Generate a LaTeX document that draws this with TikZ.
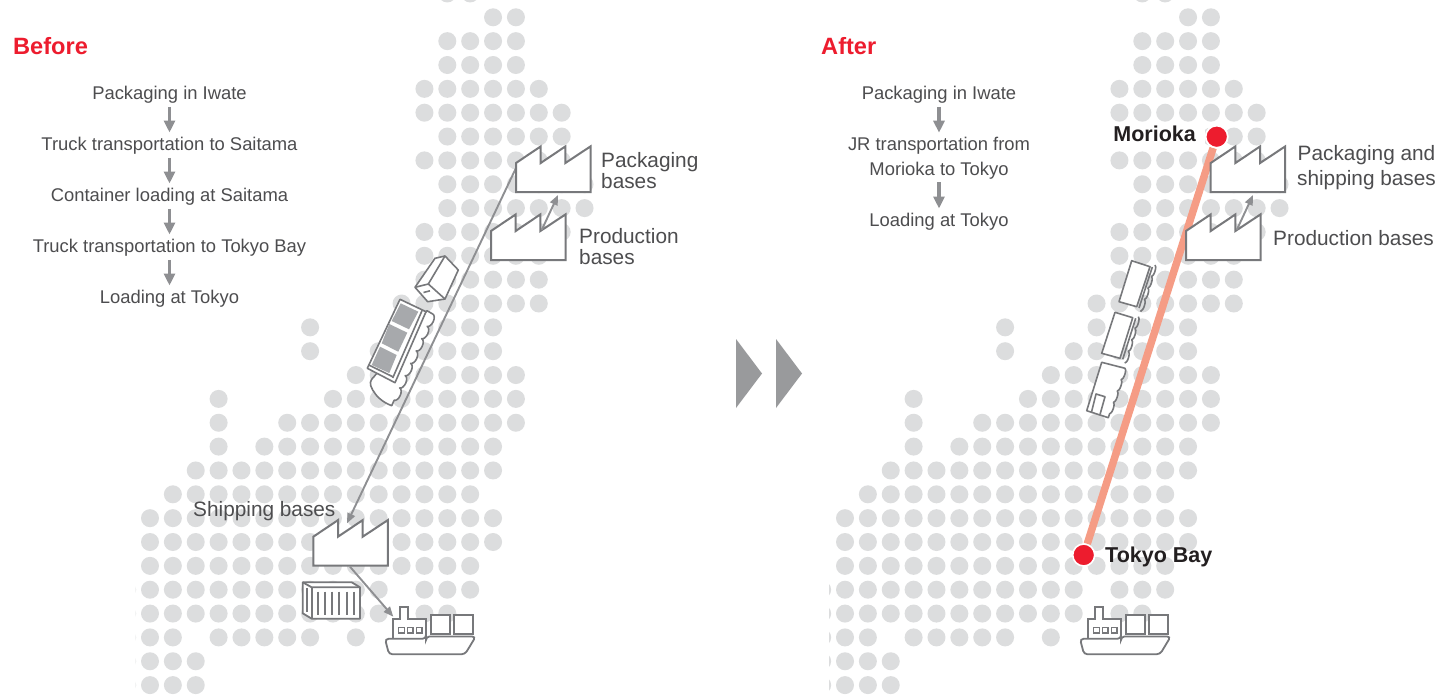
\documentclass[tikz,border=0pt]{standalone}
\usepackage{fontspec}
\setmainfont{Liberation Sans}
\usetikzlibrary{arrows.meta,decorations.pathmorphing}
\definecolor{dotgray}{HTML}{DCDDDE}
\definecolor{icongray}{HTML}{77787B}
\definecolor{arrowgray}{HTML}{8E8F92}
\definecolor{cargo}{HTML}{A7A9AC}
\definecolor{txtgray}{HTML}{4D4D4F}
\definecolor{hdred}{HTML}{ED1C2E}
\definecolor{salmon}{HTML}{F59C85}
\definecolor{tri}{HTML}{999A9C}
\definecolor{nearblack}{HTML}{231F20}
\newcommand{\dotmap}[1]{%
  \begin{scope}
  \clip (#1,0) rectangle (620,696);
  \foreach \rw/\cols in {-1/{13,14},0/{15,16},1/{13,...,16},2/{13,...,16},3/{12,...,17},4/{12,...,18},5/{13,...,18},
    6/{12,...,18},7/{13,...,19},8/{13,...,19},9/{12,...,18},10/{12,...,17},11/{12,...,17},12/{11,...,17},
    13/{7,11,12,13,14,15},14/{7,10,11,12,13,14,15},15/{9,...,16},16/{3,8,9,10,11,12,13,14,15,16},
    17/{3,6,7,8,9,10,11,12,13,14,15,16},18/{3,5,6,7,8,9,10,11,12,13,14,15},19/{2,...,15},20/{1,...,14},
    21/{0,...,15},22/{0,...,15},23/{0,...,14},24/{-1,0,1,2,3,4,5,6,7,8,9,10,12,13,14},
    25/{-1,0,1,2,3,4,5,6,7,8,9,10,12,13},26/{-1,0,1,3,4,5,6,7,9},27/{-1,0,1,2},28/{-1,0,1,2}}{
    \foreach \cl in \cols {
      \fill[dotgray] ({150+22.87*\cl},{17.3+23.85*\rw}) circle[radius=9];
    }
  }
  \end{scope}
}
\tikzset{
  x=1pt,y=-1pt,
  icon/.style={draw=icongray,line width=2pt,line join=miter},
  thin icon/.style={draw=icongray,line width=1.6pt,line join=round},
  flow/.style={draw=arrowgray,line width=3.2pt,-{Triangle[length=12pt,width=11pt]}},
  link/.style={draw=arrowgray,line width=1.9pt,-{Triangle[length=10pt,width=8pt]}},
  step text/.style={font=\fontsize{18.4}{25}\selectfont,text=txtgray,inner sep=0pt,anchor=base,text height=17.3pt,text depth=7.7pt},
  label text/.style={font=\fontsize{20.8}{21}\selectfont,text=txtgray,inner sep=0pt},
  heading/.style={font=\fontsize{23.6}{26}\selectfont\bfseries,text=hdred,inner sep=0pt,anchor=base west},
  place/.style={font=\fontsize{21.5}{24}\selectfont\bfseries,text=nearblack,inner sep=0pt},
  reddot/.style={circle,draw=white,line width=1.6pt,fill=hdred,minimum size=22pt,inner sep=0pt},
  scallop/.style={decoration={bumps,segment length=27pt,amplitude=3.6pt}},
  small scallop/.style={decoration={bumps,segment length=24pt,amplitude=1.8pt}},
  factory/.pic={
    \draw[icon,fill=white] (0,0) -- (0,-29) -- (24.7,-45.6) -- (24.7,-29) -- (49.4,-45.6) -- (49.4,-29) -- (74.5,-45.6) -- (74.5,0) -- cycle;
  },
  cargoship/.pic={
    \draw[icon,fill=white,line width=1.8pt] (393.3,638) -- (393.3,618.7) -- (400,618.7) -- (400,607.3) -- (408.3,607.3) -- (408.3,618.7) -- (426,618.7) -- (426,638);
    \draw[icon,fill=white,line width=1.8pt] (430.7,615.3) rectangle (450,634);
    \draw[icon,fill=white,line width=1.8pt] (453.7,615.3) rectangle (472.7,634);
    \foreach \wx in {398.7,407.5,416.2} \draw[icon,line width=1.4pt,fill=white] (\wx,627.3) rectangle ++(5.6,5.6);
    \draw[icon,fill=white,line width=1.8pt,rounded corners=3.5pt] (385,638.8) -- (426,638.8) -- (426,636.5) -- (475.7,636.5) -- (465,654.3) -- (389,654.3) -- cycle;
  }
}
\begin{document}
\begin{tikzpicture}
\useasboundingbox (0,0) rectangle (1450,696);
\fill[white] (0,0) rectangle (1450,696);
% ---------- dot maps
\dotmap{135.6}
\begin{scope}[shift={(695,0)}]\dotmap{134}\end{scope}

% ---------- Before: headings and steps
\node[heading] (before) at (13,54) {Before};
\node[step text] (b1) at (169.5,99) {Packaging in Iwate};
\node[step text] (b2) at (169.5,150) {Truck transportation to Saitama};
\node[step text] (b3) at (169.5,201) {Container loading at Saitama};
\node[step text] (b4) at (169.5,252) {Truck transportation to Tokyo Bay};
\node[step text] (b5) at (169.5,303) {Loading at Tokyo};
\draw[flow] (b1.south) -- (b2.north);
\draw[flow] (b2.south) -- (b3.north);
\draw[flow] (b3.south) -- (b4.north);
\draw[flow] (b4.south) -- (b5.north);

% ---------- Before: icons
\coordinate (packL) at (516,168);
\coordinate (shipTop) at (347,523.3);
\coordinate (prodOut) at (541.7,230);
\coordinate (packIn) at (558,195);
\coordinate (shipOut) at (350,566.7);
\coordinate (vessel) at (393.3,616.7);
\draw[link] (packL) -- (shipTop);
% sea container box
\draw[thin icon,fill=white] (435,258.3) -- (445,256) -- (458.3,270) -- (445,299) -- (427.7,301.7) -- (415,287.3) -- cycle;
\draw[thin icon] (415,287.3) -- (428.3,284) -- (445,299);
\draw[thin icon] (428.3,284) -- (445,256);
\draw[thin icon] (423.5,292.5) -- (430,290.8);
% container ship from above
\draw[thin icon,fill=white] (427,310.7) -- (432.7,314) decorate[scallop]{ -- (391.7,405.7)} .. controls (382,402) and (376,396) .. (372.7,390) .. controls (369,384) and (370,380) .. (374,376.7) -- cycle;
\draw[thin icon,fill=white] (400,299.3) -- (426,311.7) -- (395,382.7) -- (367.3,368.3) -- cycle;
\draw[thin icon] (422.3,310) -- (392.7,378);
\draw[thin icon] (368.8,365) -- (392.7,376.7);
\fill[cargo] (400.7,303.3) -- (418.3,311.7) -- (409,329.3) -- (391.7,321) -- cycle;
\fill[cargo] (389.3,324) -- (407.3,332.7) -- (398.3,351.7) -- (381.7,343.3) -- cycle;
\fill[cargo] (380,346.7) -- (396.7,355) -- (389.3,373) -- (371.7,365) -- cycle;
\pic at (516,192) {factory};
\pic at (491,260) {factory};
\pic at (313.3,565.7) {factory};
\draw[link] (prodOut) -- (packIn);
\draw[link] (shipOut) -- (vessel);
% land container
\draw[thin icon,fill=white,line width=1.8pt] (302.7,582.3) -- (351.7,582.3) -- (360,587.3) -- (360,618.7) -- (311.7,618.7) -- (302.7,613.3) -- cycle;
\draw[thin icon,line width=1.8pt] (302.7,582.3) -- (311.7,587.3) -- (360,587.3);
\draw[thin icon,line width=1.8pt] (311.7,587.3) -- (311.7,618.7);
\foreach \rib in {318.3,325,332.3,339.3,346.7,354} \draw[thin icon,line width=1.7pt] (\rib,591.7) -- (\rib,615);
\draw[thin icon,line width=1.4pt] (306.9,588) -- (306.9,612);
\pic at (0,0) {cargoship};
% labels
\node[label text,anchor=north west,align=left] (lpack) at (601,152.5) {Packaging\\bases};
\node[label text,anchor=north west,align=left] (lprod) at (579,228.5) {Production\\bases};
\node[label text,anchor=base west] (lship) at (193,516) {Shipping bases};

% ---------- middle triangles
\fill[tri] (736,339) -- (762,373.5) -- (736,408) -- cycle;
\fill[tri] (776,339) -- (802,373.5) -- (776,408) -- cycle;

% ---------- After: headings and steps
\node[heading] (after) at (821,54) {After};
\node[step text] (a1) at (939,99) {Packaging in Iwate};
\node[font=\fontsize{18.4}{25}\selectfont,text=txtgray,inner sep=0pt,align=center,anchor=north] (a2) at (939,136.7) {JR transportation from\\Morioka to Tokyo};
\node[step text] (a3) at (939,226) {Loading at Tokyo};
\draw[flow,shorten >=4pt] (a1.south) -- (a2.north);
\draw[flow,shorten <=3pt] (a2.south) -- (a3.north);

% ---------- After: icons
\node[reddot] (morioka) at (1216.7,136.7) {};
\node[reddot] (tokyo) at (1083.7,555) {};
% train cars
\draw[thin icon,fill=white] (1131.7,260.7) -- (1150,266.7) -- (1136.7,306.7) -- (1119,301.7) -- cycle;
\draw[thin icon] (1152.3,267) -- (1139,308);
\draw[thin icon] decorate[small scallop]{(1155,265) -- (1140.7,311.7)};
\draw[thin icon,fill=white] (1115,312.3) -- (1132.7,317.7) -- (1120,358.3) -- (1101.7,353.3) -- cycle;
\draw[thin icon] (1135.7,318.3) -- (1122.7,359.3);
\draw[thin icon] decorate[small scallop]{(1138.3,316.7) -- (1125,363.3)};
\draw[thin icon,fill=white] (1101.7,362.3) -- (1125,368.3) decorate[small scallop]{ -- (1108.3,417.7)} -- (1086.7,410.7) -- cycle;
\draw[thin icon] (1091.5,412) -- (1096,394) -- (1105,396.7) -- (1100,414.5);
\draw[draw=salmon,line width=7.5pt] (morioka) -- (tokyo);
\pic at (1210.7,192) {factory};
\pic at (1186,260) {factory};
\coordinate (prodOutR) at (1236.7,230);
\coordinate (packInR) at (1253,195);
\draw[link] (prodOutR) -- (packInR);
\pic at (695,0) {cargoship};
% place labels
\fill[white] (1112,122) rectangle (1205,151);
\node[reddot] at (morioka) {};
\node[place,anchor=base east] (lmor) at (1196,141) {Morioka};
\node[place,anchor=base west] (ltok) at (1105,562.2) {Tokyo Bay};
\node[label text,anchor=north,align=center] (lpk2) at (1366.5,145.5) {Packaging and\\[4pt]shipping bases};
\node[label text,anchor=base west] (lpr2) at (1273,245.5) {Production bases};
\end{tikzpicture}
\end{document}
